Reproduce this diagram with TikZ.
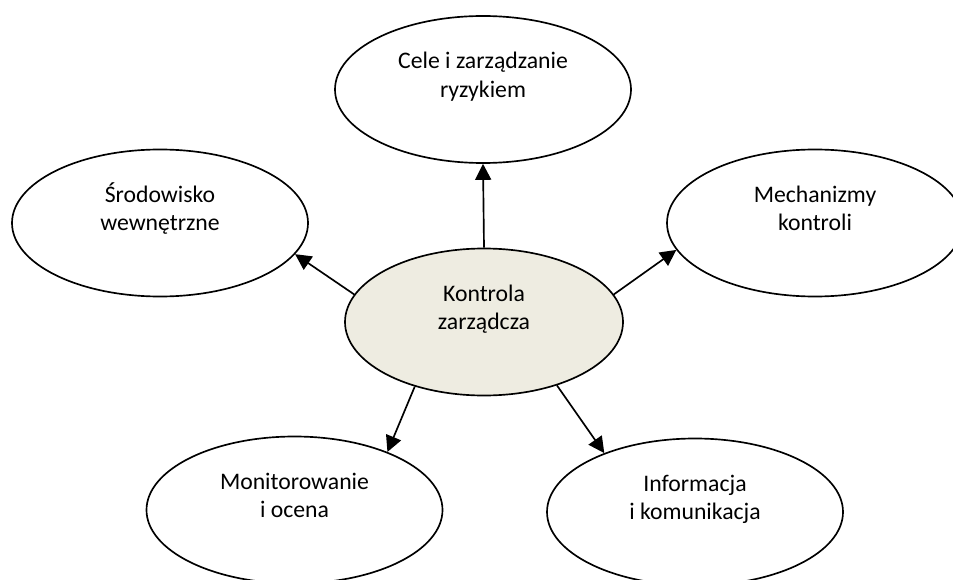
\documentclass[tikz,border=0pt]{standalone}
\usepackage{fontspec}
\setmainfont{Carlito}
\usetikzlibrary{shapes.geometric,arrows.meta}

\definecolor{beige}{RGB}{238,236,225}
\newcommand{\elltext}[1]{\raisebox{7pt}[\height][\depth]{\begin{tabular}{@{}c@{}}#1\end{tabular}}}

\begin{document}
\begin{tikzpicture}[
    ell/.style={draw, ellipse, line width=0.95pt, inner sep=0pt,
      minimum width=5.92cm, minimum height=2.94cm,
      font=\fontsize{13.5}{16.2}\selectfont},
    arr/.style={line width=0.95pt, -{Triangle[length=0.32cm,width=0.32cm]}}
  ]
    \useasboundingbox (0, 0) rectangle (19.06, -11.58);

    \node [ell, fill=beige, minimum width=5.56cm] (0) at (9.68, -6.44) {\elltext{Kontrola\\zarządcza}};

    \node [ell] (1) at (9.66, -1.79) {\elltext{Cele i zarządzanie\\ryzykiem}};
    \draw [arr] (0.90) to (1.270);

    \node [ell] (2) at (3.2, -4.46) {\elltext{Środowisko\\wewnętrzne}};
    \draw [arr] (0.168) to (2.347);

    \node [ell] (3) at (16.3, -4.46) {\elltext{Mechanizmy\\kontroli}};
    \draw [arr] (0.12) to (3.191);

    \node [ell] (4) at (5.89, -10.2) {\elltext{Monitorowanie\\i ocena}};
    \draw [arr] (0.223) to (4.32);

    \node [ell] (5) at (13.9, -10.24) {\elltext{Informacja\\i komunikacja}};
    \draw [arr] (0.319) to (5.147);

  \end{tikzpicture}
\end{document}
